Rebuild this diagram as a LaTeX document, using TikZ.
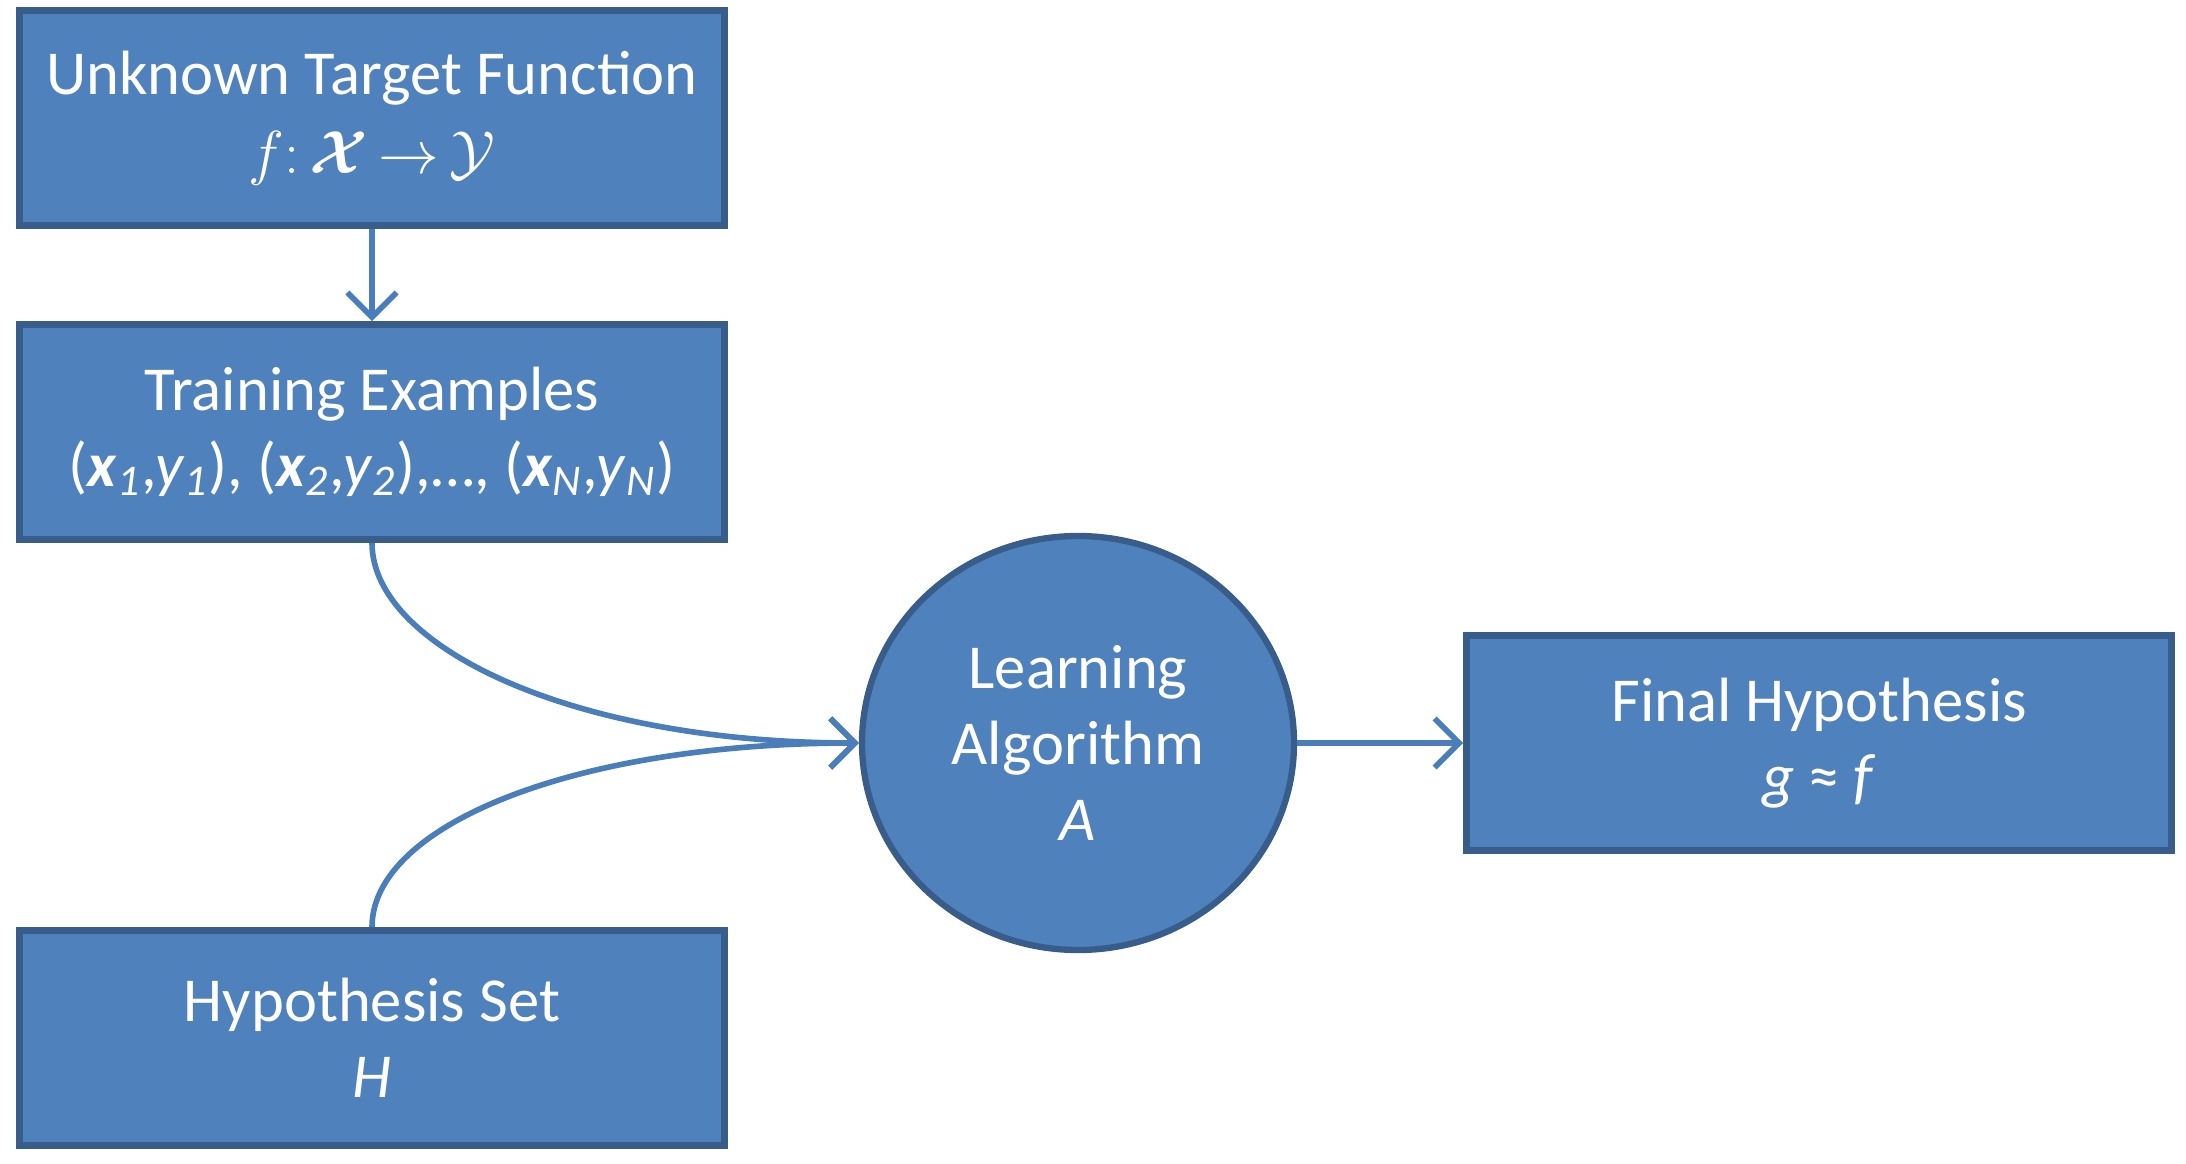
\documentclass[tikz,border=0pt]{standalone}
\usepackage{fontspec}
\setmainfont{Carlito}
\usepackage{amsmath}
\usetikzlibrary{arrows.meta, positioning, shapes.geometric}
\definecolor{cblue}{HTML}{4F81BD}
\definecolor{cborder}{HTML}{385D8A}
\definecolor{cline}{HTML}{4A7EBB}
\newcommand{\expair}[1]{(\textbf{\textit{x}}\textsubscript{\textit{#1}},\kern-0.5pt\textit{y}\textsubscript{\textit{#1}})}

\begin{document}
\begin{tikzpicture}[
  box/.style={rectangle, fill=cblue, draw=cborder, line width=2pt,
    minimum width=7.05cm, minimum height=2.15cm, text=white, align=center,
    font=\fontsize{17.8}{21.5}\selectfont},
  learner/.style={ellipse, fill=cblue, draw=cborder, line width=1.8pt,
    minimum width=4.32cm, minimum height=4.14cm, inner sep=0pt, text=white,
    align=center, font=\fontsize{17.8}{21.5}\selectfont},
  flow/.style={draw=cline, line width=1.6pt, -{Straight Barb[length=7pt,width=14pt]}}
]
  \useasboundingbox (0,0) rectangle (21.86,-11.64);
  % left column
  \node[box] (target) at (3.72,-1.18) {Unknown Target Function\\[1pt] {\fontsize{17}{21.5}\selectfont $f{:}\,\boldsymbol{\mathcal{X}}\,{\to}\,\mathcal{Y}$}};
  \node[box, below=0.92cm of target] (train) {Training Examples\\ \expair{1}, \expair{2},\ldots, \expair{N}};
  \node[box, below=3.84cm of train] (hset) {Hypothesis Set\\ \textit{H}};
  % learner and result
  \node[learner] (algo) at (10.78,-7.43) {Learning\\ Algorithm\\ \textit{A}};
  \node[box, right=1.66cm of algo] (final) {Final Hypothesis\\ \textit{g} ≈ \textit{f}};

  \draw[flow] (target) -- (train);
  \draw[flow] (train.south) to[out=-90, in=180, out looseness=0.5, in looseness=1.4] (algo.west);
  \draw[flow] (hset.north) to[out=90, in=180, out looseness=0.5, in looseness=1.4] (algo.west);
  \draw[flow] (algo) -- (final);
\end{tikzpicture}
\end{document}
